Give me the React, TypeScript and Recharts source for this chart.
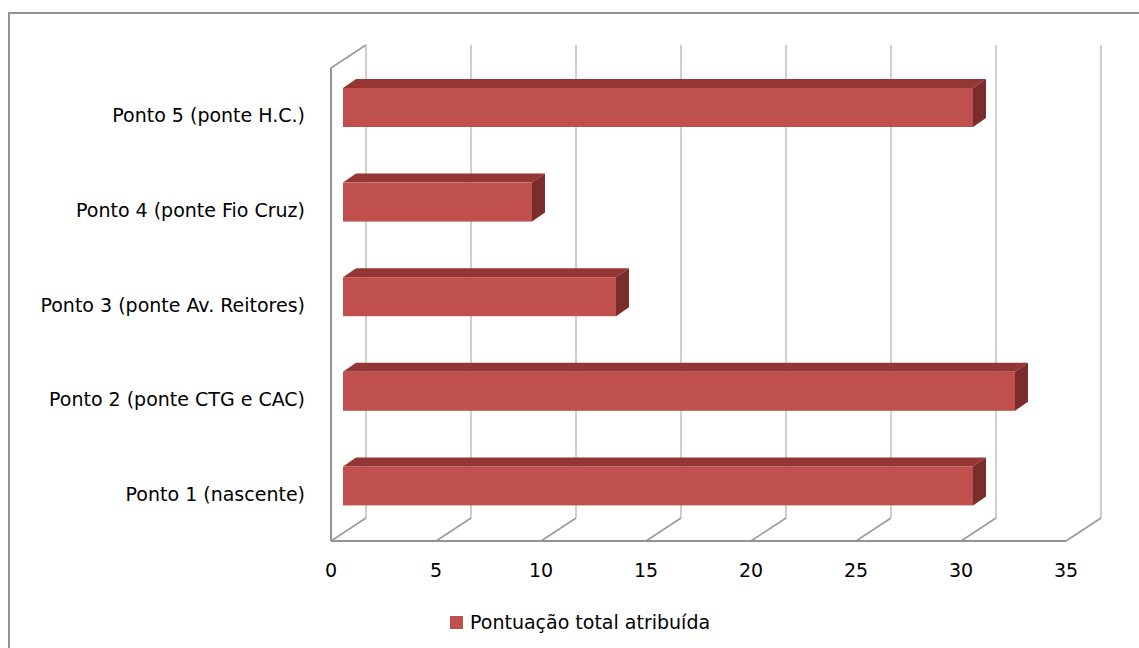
import React from 'react';
import { BarChart, Bar, XAxis, YAxis, CartesianGrid, Legend } from 'recharts';

const categories = [
  'Ponto 1 (nascente)',
  'Ponto 2 (ponte CTG e CAC)',
  'Ponto 3 (ponte Av. Reitores)',
  'Ponto 4 (ponte Fio Cruz)',
  'Ponto 5 (ponte H.C.)',
];
const scores = [30, 32, 13, 9, 30];
const xTicks = [0, 5, 10, 15, 20, 25, 30, 35];
const seriesName = 'Pontuação total atribuída';

const data = categories.map((name, i) => ({ name, score: scores[i] }));

// depth of the 3D box (floor/back wall) and of the bars
const WALL_DX = 35;
const WALL_DY = 23;
const BAR_OX = 12;
const BAR_OY = 8;
const BAR_DX = 13;
const BAR_DY = 9;

const FONT = '"DejaVu Sans", Verdana, sans-serif';

const Bar3D = (props: any) => {
  const { x, y, width, height } = props;
  const fx = x + BAR_OX;
  const fy = y - BAR_OY;
  return (
    <g>
      <polygon
        points={`${fx},${fy} ${fx + width},${fy} ${fx + width + BAR_DX},${fy - BAR_DY} ${fx + BAR_DX},${fy - BAR_DY}`}
        fill="#943634"
      />
      <polygon
        points={`${fx + width},${fy} ${fx + width + BAR_DX},${fy - BAR_DY} ${fx + width + BAR_DX},${fy + height - BAR_DY} ${fx + width},${fy + height}`}
        fill="#7A2D2B"
      />
      <rect x={fx} y={fy} width={width} height={height} fill="#C0504D" />
    </g>
  );
};

const GridLine = (props: any) => {
  const { x1, y1, y2, index } = props;
  return (
    <g key={`g-${index}`}>
      <line x1={x1 + WALL_DX} y1={y1 - WALL_DY} x2={x1 + WALL_DX} y2={y2 - WALL_DY} stroke="#9e9e9e" strokeWidth={1} />
      <line x1={x1} y1={y2} x2={x1 + WALL_DX} y2={y2 - WALL_DY} stroke="#9a9a9a" strokeWidth={1.5} />
      {index === 0 && (
        <line x1={x1} y1={y1} x2={x1 + WALL_DX} y2={y1 - WALL_DY} stroke="#9a9a9a" strokeWidth={1.5} />
      )}
    </g>
  );
};

const XTick = (props: any) => {
  const { x, payload } = props;
  return (
    <text x={x} y={577} textAnchor="middle" fontSize={19} fontFamily={FONT} fill="#000">
      {payload.value}
    </text>
  );
};

const YTick = (props: any) => {
  const { y, payload } = props;
  return (
    <text x={305} y={y} dy={7} textAnchor="end" fontSize={19} fontFamily={FONT} fill="#000">
      {payload.value}
    </text>
  );
};

const LegendContent = () => (
  <div style={{ display: 'flex', alignItems: 'center', fontFamily: FONT, fontSize: 19, color: '#000', whiteSpace: 'nowrap' }}>
    <span style={{ display: 'inline-block', width: 13, height: 13, background: '#C0504D', marginRight: 7 }} />
    {seriesName}
  </div>
);

export default function App() {
  return (
    <div style={{ position: 'fixed', left: 0, top: 0, width: 1139, height: 648, overflow: 'hidden', background: '#fff' }}>
      <div
        style={{
          position: 'absolute',
          left: 8,
          top: 12,
          width: 1200,
          height: 700,
          border: '2px solid #939393',
        }}
      />
      <div style={{ position: 'absolute', left: 0, top: 0 }}>
        <BarChart
          width={1139}
          height={648}
          data={data}
          layout="vertical"
          margin={{ top: 68, right: 73, bottom: 47, left: 31 }}
        >
          <CartesianGrid horizontal={false} vertical={GridLine} />
          <XAxis
            type="number"
            domain={[0, 35]}
            ticks={xTicks}
            height={60}
            axisLine={{ stroke: '#939393', strokeWidth: 2 }}
            tickLine={false}
            tick={XTick}
            interval={0}
          />
          <YAxis
            type="category"
            dataKey="name"
            reversed
            width={300}
            axisLine={{ stroke: '#939393', strokeWidth: 2 }}
            tickLine={false}
            tick={YTick}
            interval={0}
          />
          <Legend
            layout="horizontal"
            verticalAlign="middle"
            align="center"
            content={LegendContent}
            wrapperStyle={{ left: 450, top: 611, width: 'auto' }}
          />
          <Bar dataKey="score" name={seriesName} barSize={39} shape={Bar3D} isAnimationActive={false} />
        </BarChart>
      </div>
    </div>
  );
}
